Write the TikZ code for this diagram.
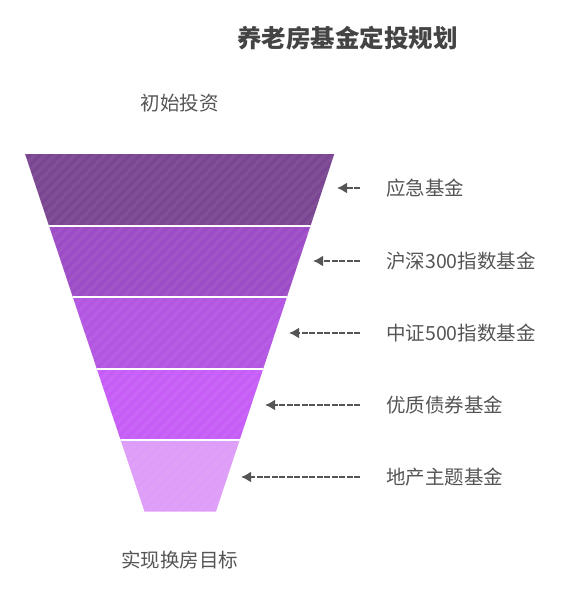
\documentclass[tikz,border=0pt]{standalone}
\usepackage{fontspec}
\setmainfont{Noto Sans CJK SC}
\usetikzlibrary{arrows.meta,positioning,calc}
\usepackage{xcolor}
\definecolor{ink}{HTML}{555555}
\definecolor{headink}{HTML}{444444}
\definecolor{tierA}{HTML}{7A4691}
\definecolor{tierB}{HTML}{9C4CC6}
\definecolor{tierC}{HTML}{B356E2}
\definecolor{tierD}{HTML}{C65DF7}
\definecolor{tierE}{HTML}{DE9DF8}
\tikzset{
  heading/.style={font=\bfseries\fontsize{24.5}{29}\selectfont,text=headink,inner sep=0pt},
  caption/.style={font=\fontsize{19.5}{23}\selectfont,text=ink,inner sep=0pt},
  fundname/.style={caption,anchor=west},
  stripe/.style={draw=white,opacity=0.05,line width=3.5pt},
  divider/.style={draw=white,line width=2pt},
  pointer/.style={-{Latex[length=10pt,width=11pt]},draw=ink,line width=1.8pt,dash pattern=on 6pt off 1.5pt,shorten <=26pt}
}

\begin{document}
\begin{tikzpicture}[x=1pt,y=-1pt]
\useasboundingbox (0,0) rectangle (571,602);

% funnel
\begin{scope}
\clip (25,154) -- (334.3,154) -- (216,511.5) -- (144.5,511.5) -- cycle;
\fill[tierA] (0,154) rectangle (400,225.5);
\fill[tierB] (0,225.5) rectangle (400,297);
\fill[tierC] (0,297) rectangle (400,368.5);
\fill[tierD] (0,368.5) rectangle (400,440);
\fill[tierE] (0,440) rectangle (400,512);
\foreach \i in {-400,-390,...,400}
  \draw[stripe] (\i,520) -- (\i+400,120);
\draw[divider] (0,225.5) -- (400,225.5);
\draw[divider] (0,297) -- (400,297);
\draw[divider] (0,368.5) -- (400,368.5);
\draw[divider] (0,440) -- (400,440);
\end{scope}

\node[heading] (title) at (347.5,38) {养老房基金定投规划};
\node[caption] (start) at (179.5,103) {初始投资};
\node[caption] (goal) at (179.5,560) {实现换房目标};

\node[fundname] (emergency) at (386,188) {应急基金};
\node[fundname] (hs300) at (386,261) {沪深300指数基金};
\node[fundname] (zz500) at (386,333) {中证500指数基金};
\node[fundname] (bond) at (386,405) {优质债券基金};
\node[fundname] (property) at (386,477) {地产主题基金};

\coordinate (tipA) at (337,188);
\coordinate (tipB) at (313,261);
\coordinate (tipC) at (289,333);
\coordinate (tipD) at (265,405);
\coordinate (tipE) at (241,477);

\draw[pointer] (emergency.west) -- (tipA);
\draw[pointer] (hs300.west) -- (tipB);
\draw[pointer] (zz500.west) -- (tipC);
\draw[pointer] (bond.west) -- (tipD);
\draw[pointer] (property.west) -- (tipE);
\end{tikzpicture}
\end{document}
